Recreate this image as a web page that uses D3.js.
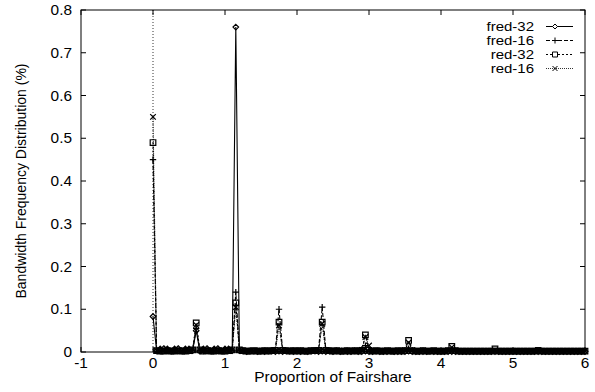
<!DOCTYPE html>
<html>
<head>
<meta charset="utf-8">
<script src="https://cdn.jsdelivr.net/npm/d3@7"></script>
<style>
  body { margin: 0; background: #fff; }
  text { font-family: "Liberation Sans", Arial, sans-serif; font-size: 14px; fill: #000; }
</style>
</head>
<body>
<div id="chart"></div>
<script>
// proportion of fairshare (bin centres)
const fairshare = [
  0.00,0.05,0.10,0.15,0.20,0.25,0.30,0.35,0.40,0.45,
  0.50,0.55,0.60,0.65,0.70,0.75,0.80,0.85,0.90,0.95,
  1.00,1.05,1.10,1.15,1.20,1.25,1.30,1.35,1.40,1.45,
  1.50,1.55,1.60,1.65,1.70,1.75,1.80,1.85,1.90,1.95,
  2.00,2.05,2.10,2.15,2.20,2.25,2.30,2.35,2.40,2.45,
  2.50,2.55,2.60,2.65,2.70,2.75,2.80,2.85,2.90,2.95,
  3.00,3.05,3.10,3.15,3.20,3.25,3.30,3.35,3.40,3.45,
  3.50,3.55,3.60,3.65,3.70,3.75,3.80,3.85,3.90,3.95,
  4.00,4.05,4.10,4.15,4.20,4.25,4.30,4.35,4.40,4.45,
  4.50,4.55,4.60,4.65,4.70,4.75,4.80,4.85,4.90,4.95,
  5.00,5.05,5.10,5.15,5.20,5.25,5.30,5.35,5.40,5.45,
  5.50,5.55,5.60,5.65,5.70,5.75,5.80,5.85,5.90,5.95,
  6.00
];

const fred32 = [
  0.083,0.003,0.007,0.008,0.007,0.002,0.007,0.008,0.003,0.007,
  0.007,0.003,0.050,0.002,0.007,0.008,0.003,0.007,0.008,0.003,
  0.007,0.007,0.003,0.760,0.003,0.002,0.001,0.002,0.002,0.001,
  0.002,0.001,0.002,0.002,0.001,0.002,0.001,0.002,0.002,0.001,
  0.002,0.001,0.002,0.001,0.002,0.002,0.001,0.002,0.001,0.002,
  0.001,0.002,0.001,0.002,0.001,0.001,0.002,0.001,0.001,0.002,
  0.001,0.001,0.002,0.001,0.001,0.001,0.002,0.001,0.001,0.001,
  0.001,0.002,0.001,0.001,0.001,0.001,0.001,0.002,0.001,0.001,
  0.001,0.001,0.001,0.001,0.001,0.001,0.001,0.001,0.001,0.001,
  0.001,0.001,0.001,0.001,0.001,0.001,0.001,0.001,0.001,0.001,
  0.001,0.001,0.001,0.001,0.001,0.001,0.001,0.001,0.001,0.001,
  0.001,0.001,0.001,0.001,0.001,0.001,0.001,0.001,0.001,0.001,
  0.001
];

const fred16 = [
  0.450,0.002,0.002,0.003,0.002,0.002,0.003,0.002,0.002,0.003,
  0.002,0.004,0.055,0.004,0.002,0.003,0.002,0.002,0.003,0.002,
  0.002,0.003,0.004,0.140,0.004,0.003,0.002,0.003,0.002,0.003,
  0.002,0.003,0.003,0.004,0.005,0.100,0.005,0.003,0.002,0.003,
  0.002,0.003,0.002,0.003,0.003,0.004,0.005,0.105,0.005,0.003,
  0.002,0.003,0.002,0.002,0.003,0.002,0.003,0.003,0.006,0.015,
  0.005,0.002,0.002,0.003,0.002,0.002,0.003,0.002,0.002,0.003,
  0.004,0.008,0.004,0.002,0.002,0.003,0.002,0.002,0.002,0.002,
  0.002,0.002,0.003,0.004,0.003,0.002,0.002,0.002,0.002,0.002,
  0.002,0.002,0.002,0.002,0.002,0.003,0.002,0.002,0.002,0.002,
  0.002,0.002,0.002,0.002,0.002,0.002,0.002,0.003,0.002,0.002,
  0.002,0.002,0.002,0.002,0.002,0.002,0.002,0.002,0.002,0.002,
  0.002
];

const red32 = [
  0.490,0.003,0.002,0.002,0.003,0.002,0.002,0.003,0.002,0.002,
  0.003,0.005,0.068,0.005,0.002,0.003,0.002,0.002,0.003,0.002,
  0.002,0.003,0.005,0.115,0.005,0.003,0.002,0.002,0.003,0.002,
  0.002,0.003,0.002,0.003,0.004,0.070,0.004,0.003,0.002,0.003,
  0.002,0.003,0.002,0.002,0.003,0.003,0.004,0.070,0.004,0.003,
  0.002,0.003,0.002,0.002,0.003,0.002,0.003,0.002,0.004,0.040,
  0.004,0.002,0.003,0.002,0.002,0.003,0.002,0.002,0.003,0.002,
  0.003,0.027,0.003,0.002,0.002,0.003,0.002,0.002,0.003,0.002,
  0.002,0.002,0.003,0.013,0.003,0.002,0.002,0.002,0.002,0.002,
  0.002,0.002,0.002,0.002,0.002,0.007,0.002,0.002,0.002,0.002,
  0.002,0.002,0.002,0.002,0.002,0.002,0.002,0.004,0.002,0.002,
  0.002,0.002,0.002,0.002,0.002,0.002,0.002,0.002,0.002,0.002,
  0.002
];

const red16 = [
  0.550,0.003,0.002,0.003,0.002,0.002,0.003,0.002,0.002,0.003,
  0.002,0.005,0.063,0.005,0.002,0.002,0.003,0.002,0.002,0.003,
  0.002,0.002,0.005,0.105,0.005,0.002,0.003,0.002,0.002,0.003,
  0.002,0.002,0.003,0.002,0.004,0.062,0.004,0.002,0.003,0.002,
  0.002,0.003,0.002,0.002,0.003,0.002,0.004,0.066,0.004,0.002,
  0.003,0.002,0.002,0.003,0.002,0.002,0.003,0.002,0.005,0.035,
  0.015,0.002,0.002,0.003,0.002,0.002,0.003,0.002,0.002,0.003,
  0.004,0.022,0.004,0.002,0.002,0.003,0.002,0.002,0.002,0.002,
  0.002,0.002,0.003,0.011,0.003,0.002,0.002,0.002,0.002,0.002,
  0.002,0.002,0.002,0.002,0.002,0.005,0.002,0.002,0.002,0.002,
  0.002,0.002,0.002,0.002,0.002,0.002,0.002,0.003,0.002,0.002,
  0.002,0.002,0.002,0.002,0.002,0.002,0.002,0.002,0.002,0.002,
  0.002
];

const seriesNames = ['fred-32', 'fred-16', 'red-32', 'red-16'];
const seriesValues = [fred32, fred16, red32, red16];
const xTicks = [-1, 0, 1, 2, 3, 4, 5, 6];
const yTicks = [0, 0.1, 0.2, 0.3, 0.4, 0.5, 0.6, 0.7, 0.8];

const svgWidth = 595;
const svgHeight = 392;
const margin = { top: 10, right: 10, bottom: 40, left: 81 };
const width = svgWidth - margin.left - margin.right;
const height = svgHeight - margin.top - margin.bottom;
const stretch = 1.1; // the original plot is slightly wider than tall

const styles = [
  { dash: null, marker: 'diamond', opacity: 1 },
  { dash: '4,2', marker: 'plus', opacity: 1 },
  { dash: '2,2', marker: 'square', opacity: 1 },
  { dash: '1,1', marker: 'cross', opacity: 0.8 }
];

const svg = d3.select('#chart')
  .append('svg')
  .attr('width', svgWidth)
  .attr('height', svgHeight);

const g = svg.append('g').attr('transform', `translate(${margin.left}, ${margin.top})`);

const x = d3.scaleLinear().domain([-1, 6]).range([0, width]);
const y = d3.scaleLinear().domain([0, 0.8]).range([height, 0]);

function markerPath(type, s) {
  if (type === 'diamond') return `M0,${-s}L${s},0L0,${s}L${-s},0Z`;
  if (type === 'square') return `M${-s},${-s}H${s}V${s}H${-s}Z`;
  if (type === 'plus') return `M${-s},0H${s}M0,${-s}V${s}`;
  return `M${-s},${-s}L${s},${s}M${-s},${s}L${s},${-s}`;
}

// dotted zero axis
g.append('line')
  .attr('x1', x(0)).attr('x2', x(0))
  .attr('y1', 0).attr('y2', height)
  .attr('stroke', '#000')
  .attr('stroke-width', 0.8)
  .attr('stroke-dasharray', '1,2');

// ticks, inward and mirrored
const tickLen = 5;
xTicks.forEach(t => {
  g.append('line').attr('x1', x(t)).attr('x2', x(t)).attr('y1', height).attr('y2', height - tickLen).attr('stroke', '#000');
  g.append('line').attr('x1', x(t)).attr('x2', x(t)).attr('y1', 0).attr('y2', tickLen).attr('stroke', '#000');
  g.append('text')
    .attr('transform', `translate(${x(t)}, ${height + 16}) scale(${stretch}, 1)`)
    .attr('text-anchor', 'middle')
    .text(String(t));
});
yTicks.forEach(t => {
  g.append('line').attr('x1', 0).attr('x2', tickLen).attr('y1', y(t)).attr('y2', y(t)).attr('stroke', '#000');
  g.append('line').attr('x1', width).attr('x2', width - tickLen).attr('y1', y(t)).attr('y2', y(t)).attr('stroke', '#000');
  g.append('text')
    .attr('transform', `translate(-9, ${y(t) + 5}) scale(${stretch}, 1)`)
    .attr('text-anchor', 'end')
    .text(t === 0 ? '0' : d3.format('.1f')(t));
});

// series
seriesValues.forEach((vals, i) => {
  const st = styles[i];
  const pts = vals.map((v, j) => [fairshare[j], v]);
  const line = d3.line().x(d => x(d[0])).y(d => y(d[1]));

  g.append('path')
    .datum(pts)
    .attr('d', line)
    .attr('fill', 'none')
    .attr('stroke', '#000')
    .attr('stroke-width', 1.1)
    .attr('stroke-opacity', st.opacity)
    .attr('stroke-dasharray', st.dash);

  g.selectAll(`.m${i}`)
    .data(pts)
    .enter()
    .append('path')
    .attr('class', `m${i}`)
    .attr('transform', d => `translate(${x(d[0])}, ${y(d[1])})`)
    .attr('d', markerPath(st.marker, st.marker === 'plus' ? 3.2 : 2.8))
    .attr('fill', 'none')
    .attr('stroke', '#000')
    .attr('stroke-width', 1.2);
});

// border
g.append('rect')
  .attr('x', 0).attr('y', 0)
  .attr('width', width).attr('height', height)
  .attr('fill', 'none')
  .attr('stroke', '#000')
  .attr('stroke-width', 1);

// legend
seriesNames.forEach((name, i) => {
  const st = styles[i];
  const ly = 16.5 + i * 14;
  const lx = 453;
  g.append('text')
    .attr('transform', `translate(${lx}, ${ly + 4.5}) scale(1.25, 1)`)
    .attr('text-anchor', 'end')
    .style('font-size', '12px')
    .text(name);
  g.append('line')
    .attr('x1', lx + 12).attr('x2', lx + 39)
    .attr('y1', ly).attr('y2', ly)
    .attr('stroke', '#000')
    .attr('stroke-opacity', st.opacity)
    .attr('stroke-dasharray', st.dash);
  g.append('path')
    .attr('transform', `translate(${lx + 21}, ${ly})`)
    .attr('d', markerPath(st.marker, st.marker === 'plus' ? 3 : 2.5))
    .attr('fill', st.marker === 'square' || st.marker === 'diamond' ? '#fff' : 'none')
    .attr('stroke', '#000');
});

// axis titles
svg.append('text')
  .attr('transform', `translate(${margin.left + x(2.5)}, 382) scale(${stretch}, 1)`)
  .attr('text-anchor', 'middle')
  .text('Proportion of Fairshare');

svg.append('text')
  .attr('transform', `translate(26, ${margin.top + height / 2}) rotate(-90)`)
  .attr('text-anchor', 'middle')
  .text('Bandwidth Frequency Distribution (%)');
</script>
</body>
</html>
